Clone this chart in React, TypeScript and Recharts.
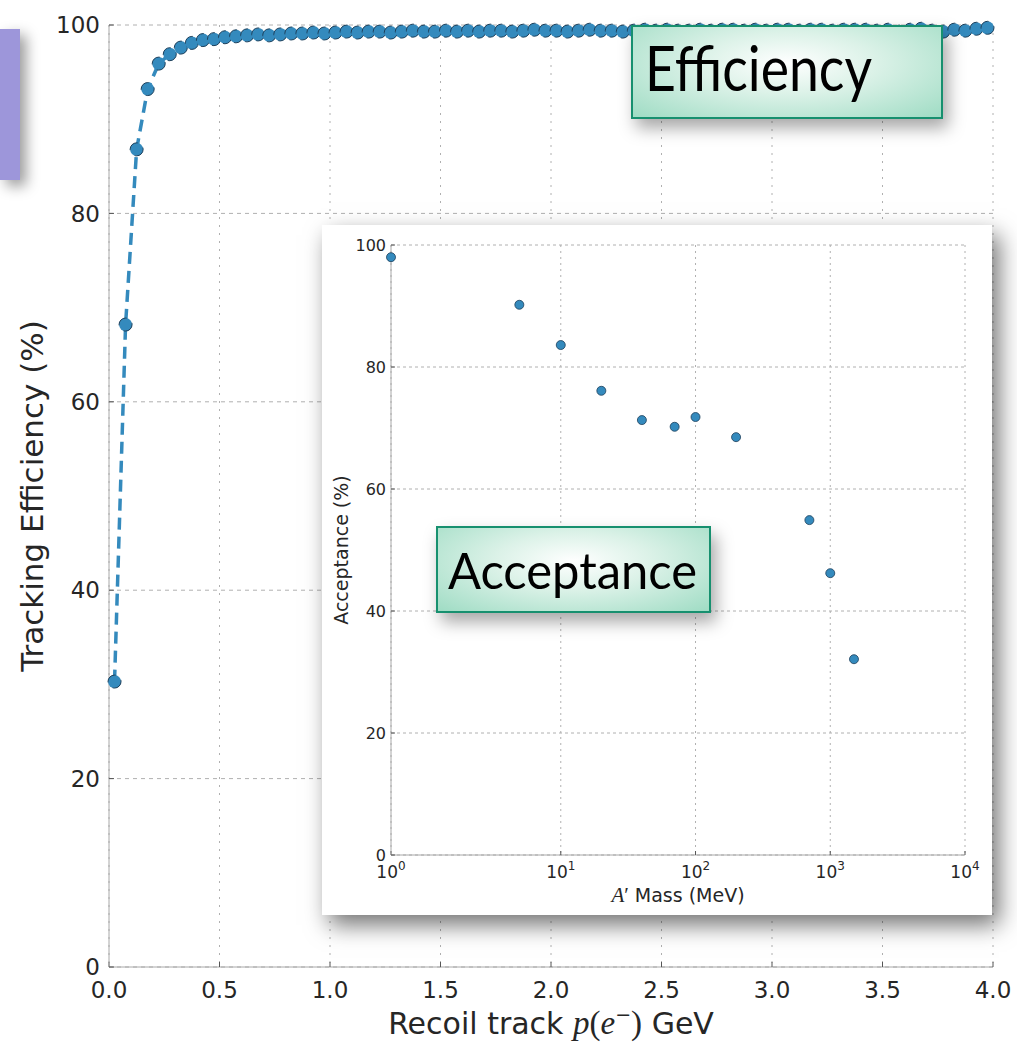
import React from 'react';
import { LineChart, Line, XAxis, YAxis, CartesianGrid, ScatterChart, Scatter } from 'recharts';

// ---------- main chart data ----------
const MOMENTUM_GEV = [
  0.025, 0.075, 0.125, 0.175, 0.225, 0.275, 0.325, 0.375, 0.425, 0.475,
  0.525, 0.575, 0.625, 0.675, 0.725, 0.775, 0.825, 0.875, 0.925, 0.975,
  1.025, 1.075, 1.125, 1.175, 1.225, 1.275, 1.325, 1.375, 1.425, 1.475,
  1.525, 1.575, 1.625, 1.675, 1.725, 1.775, 1.825, 1.875, 1.925, 1.975,
  2.025, 2.075, 2.125, 2.175, 2.225, 2.275, 2.325, 2.375, 2.425, 2.475,
  2.525, 2.575, 2.625, 2.675, 2.725, 2.775, 2.825, 2.875, 2.925, 2.975,
  3.025, 3.075, 3.125, 3.175, 3.225, 3.275, 3.325, 3.375, 3.425, 3.475,
  3.525, 3.575, 3.625, 3.675, 3.725, 3.775, 3.825, 3.875, 3.925, 3.975,
];
const EFFICIENCY_PCT = [
  30.3, 68.2, 86.8, 93.2, 95.9, 96.9, 97.6, 98.1, 98.4, 98.5,
  98.7, 98.8, 98.9, 99.0, 98.9, 99.0, 99.1, 99.1, 99.2, 99.1,
  99.2, 99.3, 99.2, 99.3, 99.3, 99.2, 99.3, 99.4, 99.3, 99.3,
  99.4, 99.3, 99.4, 99.3, 99.4, 99.4, 99.3, 99.4, 99.5, 99.4,
  99.4, 99.3, 99.4, 99.5, 99.4, 99.4, 99.3, 99.4, 99.5, 99.4,
  99.5, 99.4, 99.4, 99.5, 99.4, 99.5, 99.5, 99.4, 99.5, 99.4,
  99.5, 99.5, 99.4, 99.5, 99.5, 99.4, 99.5, 99.5, 99.5, 99.4,
  99.5, 99.3, 99.5, 99.6, 99.4, 99.3, 99.5, 99.4, 99.6, 99.7,
];
const MAIN_X_TICKS = [0, 0.5, 1.0, 1.5, 2.0, 2.5, 3.0, 3.5, 4.0];
const MAIN_Y_TICKS = [0, 20, 40, 60, 80, 100];

// ---------- inset data ----------
const MASS_MEV = [1, 5.7, 10, 20, 40, 70, 100, 200, 700, 1000, 1500];
const ACCEPTANCE_PCT = [98.0, 90.2, 83.6, 76.1, 71.3, 70.2, 71.8, 68.5, 54.9, 46.2, 32.1];
const INSET_X_EXPONENTS = [0, 1, 2, 3, 4];
const INSET_Y_TICKS = [0, 20, 40, 60, 80, 100];
// axis position of each decade boundary (first decade drawn wider, as in the source)
const DECADE_POSITIONS = [0, 1.26, 2.26, 3.26, 4.26];

const massToAxis = (m: number) => {
  const l = Math.log10(m);
  const k = Math.min(Math.max(Math.floor(l), 0), 3);
  const f = l - k;
  return DECADE_POSITIONS[k] + f * (DECADE_POSITIONS[k + 1] - DECADE_POSITIONS[k]);
};

const mainData = MOMENTUM_GEV.map((p, i) => ({ p, eff: EFFICIENCY_PCT[i] }));
const insetData = MASS_MEV.map((m, i) => ({ pos: massToAxis(m), acc: ACCEPTANCE_PCT[i] }));

const BLUE = '#348ABD';
const TXT = '#262626';
const SANS = 'DejaVu Sans';
const SERIF = 'Liberation Serif';

const MainYTitle = (props: any) => {
  const vb = props.viewBox || { x: 0, y: 25, width: 109, height: 942 };
  const cx = 43;
  const cy = vb.y + vb.height / 2;
  return (
    <text x={cx} y={cy} transform={`rotate(-90 ${cx} ${cy})`} textAnchor="middle" fontSize={31} fontFamily={SANS} fill={TXT}>
      Tracking Efficiency (%)
    </text>
  );
};

const MainXTitle = (props: any) => {
  const vb = props.viewBox || { x: 109, y: 967, width: 884, height: 75 };
  const cx = vb.x + vb.width / 2;
  return (
    <text x={cx} y={1034} textAnchor="middle" fontSize={30} fontFamily={SANS} fill={TXT}>
      <tspan>{'Recoil track '}</tspan>
      <tspan fontFamily={SERIF} fontStyle="italic" fontSize={33}>p</tspan>
      <tspan fontFamily={SERIF} fontSize={33}>(</tspan>
      <tspan fontFamily={SERIF} fontStyle="italic" fontSize={33}>e</tspan>
      <tspan fontSize={19} dy={-13}>{'\u2212'}</tspan>
      <tspan fontFamily={SERIF} fontSize={33} dy={13}>{')'}</tspan>
      <tspan>{' GeV'}</tspan>
    </text>
  );
};

const InsetYTitle = (props: any) => {
  const vb = props.viewBox || { x: 0, y: 20, width: 69, height: 610 };
  const cx = 26;
  const cy = vb.y + vb.height / 2;
  return (
    <text x={cx} y={cy} transform={`rotate(-90 ${cx} ${cy})`} textAnchor="middle" fontSize={19} fontFamily={SANS} fill={TXT}>
      Acceptance (%)
    </text>
  );
};

const InsetXTitle = (props: any) => {
  const vb = props.viewBox || { x: 69, y: 630, width: 574, height: 60 };
  const cx = vb.x + vb.width / 2;
  return (
    <text x={cx} y={677} textAnchor="middle" fontSize={19} fontFamily={SANS} fill={TXT}>
      <tspan fontFamily={SERIF} fontStyle="italic" fontSize={21}>A</tspan>
      <tspan fontFamily={SERIF} fontSize={21}>{'\u2032'}</tspan>
      <tspan>{' Mass (MeV)'}</tspan>
    </text>
  );
};

const InsetXTick = (props: any) => {
  const { x, y, payload } = props;
  const idx = DECADE_POSITIONS.findIndex((d) => Math.abs(d - payload.value) < 1e-6);
  const exp = INSET_X_EXPONENTS[idx];
  return (
    <text x={x} y={y} textAnchor="middle" fontSize={17} fontFamily={SANS} fill={TXT}>
      <tspan dy={14}>10</tspan>
      <tspan fontSize={12} dy={-8}>{String(exp)}</tspan>
    </text>
  );
};

const InsetDot = (props: any) => {
  const { cx, cy } = props;
  if (cx == null || cy == null) return null;
  return <circle cx={cx} cy={cy} r={4.5} fill={BLUE} stroke="#1d3f5a" strokeWidth={0.8} />;
};

export default function App() {
  return (
    <div style={{ position: 'absolute', left: 0, top: 0, width: 1017, height: 1042, background: '#fff', overflow: 'hidden' }}>
      {/* main chart */}
      <div style={{ position: 'absolute', left: 0, top: 0 }}>
        <LineChart width={1017} height={1042} data={mainData} margin={{ top: 25, right: 24, bottom: 0, left: 0 }}>
          <CartesianGrid vertical={false} stroke="#b0b0b0" strokeDasharray="4 4" />
          <CartesianGrid horizontal={false} stroke="#b0b0b0" strokeDasharray="2 6" />
          <XAxis
            dataKey="p"
            type="number"
            domain={[0, 4]}
            ticks={MAIN_X_TICKS}
            tickFormatter={(v: number) => v.toFixed(1)}
            height={75}
            tickSize={-5}
            tickMargin={20}
            axisLine={{ stroke: '#a8a8a8' }}
            tickLine={{ stroke: '#555' }}
            tick={{ fontSize: 23, fontFamily: SANS, fill: TXT }}
            interval={0}
            label={{ content: (p: any) => <MainXTitle {...p} /> }}
          />
          <YAxis
            type="number"
            domain={[0, 100]}
            ticks={MAIN_Y_TICKS}
            width={109}
            tickSize={-5}
            tickMargin={14}
            axisLine={{ stroke: '#a8a8a8' }}
            tickLine={{ stroke: '#555' }}
            tick={{ fontSize: 23, fontFamily: SANS, fill: TXT }}
            interval={0}
            label={{ content: (p: any) => <MainYTitle {...p} /> }}
          />
          <Line
            type="linear"
            dataKey="eff"
            stroke={BLUE}
            strokeWidth={3.5}
            strokeDasharray="12 7"
            dot={{ r: 6.5, fill: BLUE, stroke: '#1d3f5a', strokeWidth: 1 }}
            activeDot={false}
            isAnimationActive={false}
          />
        </LineChart>
      </div>

      {/* purple box at left */}
      <div style={{ position: 'absolute', left: 0, top: 29, width: 20, height: 151, background: '#9d96da', boxShadow: '6px 6px 14px rgba(0,0,0,0.4)' }} />

      {/* Efficiency callout */}
      <div
        style={{
          position: 'absolute', left: 631, top: 25, width: 312, height: 94, boxSizing: 'border-box',
          border: '2px solid #17906f',
          background: 'radial-gradient(ellipse farthest-corner at 50% 40%, #ffffff 0%, #dcf2e8 40%, #9fdcc4 100%)',
          boxShadow: '5px 9px 16px rgba(0,0,0,0.35)',
        }}
      >
        <svg width={308} height={90} style={{ position: 'absolute', left: 0, top: 0 }}>
          <text x={12} y={64} fontSize={61} fontFamily="Lato" fill="#000" textLength={227} lengthAdjust="spacingAndGlyphs">Efficiency</text>
        </svg>
      </div>

      {/* inset */}
      <div style={{ position: 'absolute', left: 322, top: 225, width: 670, height: 690, background: '#fff', boxShadow: '7px 10px 22px rgba(0,0,0,0.55)' }}>
        <ScatterChart width={670} height={690} margin={{ top: 20, right: 27, bottom: 0, left: 0 }}>
          <CartesianGrid vertical={false} stroke="#b0b0b0" strokeDasharray="3 3" />
          <CartesianGrid horizontal={false} stroke="#b0b0b0" strokeDasharray="2 4" />
          <XAxis
            dataKey="pos"
            type="number"
            domain={[0, DECADE_POSITIONS[4]]}
            ticks={DECADE_POSITIONS}
            height={60}
            tickSize={-4}
            tickMargin={13}
            axisLine={{ stroke: '#a8a8a8' }}
            tickLine={{ stroke: '#555' }}
            tick={<InsetXTick />}
            interval={0}
            label={{ content: (p: any) => <InsetXTitle {...p} /> }}
          />
          <YAxis
            dataKey="acc"
            type="number"
            domain={[0, 100]}
            ticks={INSET_Y_TICKS}
            width={69}
            tickSize={-4}
            tickMargin={9}
            axisLine={{ stroke: '#a8a8a8' }}
            tickLine={{ stroke: '#555' }}
            tick={{ fontSize: 16, fontFamily: SANS, fill: TXT }}
            interval={0}
            label={{ content: (p: any) => <InsetYTitle {...p} /> }}
          />
          <Scatter data={insetData} shape={<InsetDot />} isAnimationActive={false} />
        </ScatterChart>
      </div>

      {/* Acceptance callout */}
      <div
        style={{
          position: 'absolute', left: 436, top: 526, width: 275, height: 87, boxSizing: 'border-box',
          border: '2px solid #17906f',
          background: 'radial-gradient(ellipse farthest-corner at 50% 40%, #ffffff 0%, #dcf2e8 40%, #9fdcc4 100%)',
          boxShadow: '5px 9px 16px rgba(0,0,0,0.35)',
        }}
      >
        <svg width={271} height={83} style={{ position: 'absolute', left: 0, top: 0 }}>
          <text x={10} y={61} fontSize={51} fontFamily="Lato" fill="#000" textLength={249} lengthAdjust="spacingAndGlyphs">Acceptance</text>
        </svg>
      </div>
    </div>
  );
}
